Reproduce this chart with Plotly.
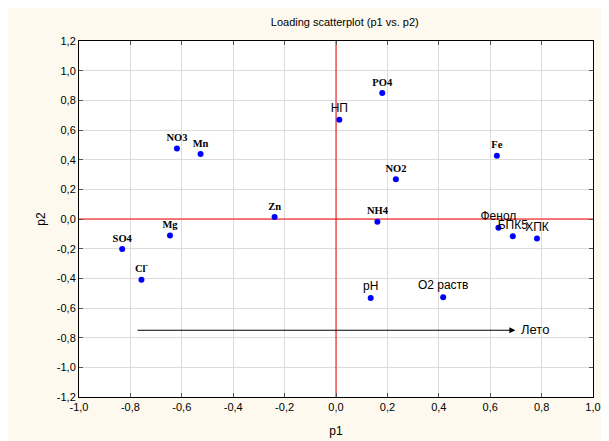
import plotly.graph_objects as go

# Serif-labelled variables
serif_names = ["NO3", "Mn", "Zn", "Mg", "SO4", "Cl<sup>-</sup>", "PO4", "Fe", "NO2", "NH4"]
serif_p1 = [-0.619, -0.527, -0.239, -0.646, -0.832, -0.757, 0.180, 0.626, 0.233, 0.161]
serif_p2 = [0.475, 0.439, 0.014, -0.111, -0.203, -0.410, 0.849, 0.426, 0.268, -0.018]

# Sans-labelled variables
sans_names = ["НП", "Фенол", "БПК5", "ХПК", "pH", "O2 раств"]
sans_p1 = [0.013, 0.632, 0.688, 0.782, 0.135, 0.417]
sans_p2 = [0.669, -0.059, -0.117, -0.131, -0.532, -0.527]

# Season arrow (data coordinates)
arrow_start = [-0.778, -0.75]
arrow_end = [0.698, -0.75]
arrow_label = "Лето"

x_ticks = [-1.0, -0.8, -0.6, -0.4, -0.2, 0.0, 0.2, 0.4, 0.6, 0.8, 1.0]
y_ticks = [-1.2, -1.0, -0.8, -0.6, -0.4, -0.2, 0.0, 0.2, 0.4, 0.6, 0.8, 1.0, 1.2]


def fmt(v):
    return ("%.1f" % v).replace(".", ",")


fig = go.Figure()

# zero lines
fig.add_shape(type="line", x0=0, x1=0, y0=-1.2, y1=1.2, xref="x", yref="y",
              line=dict(color="#ff0000", width=1), layer="between")
fig.add_shape(type="line", x0=-1.0, x1=1.0, y0=0, y1=0, xref="x", yref="y",
              line=dict(color="#ff0000", width=1), layer="between")

fig.add_trace(go.Scatter(
    x=serif_p1, y=serif_p2, mode="markers+text",
    text=["<b>" + n + "</b>" for n in serif_names],
    textposition="top center",
    textfont=dict(family="Liberation Serif", size=10.5, color="#000000"),
    marker=dict(color="#0000ff", size=6), cliponaxis=False, showlegend=False))

fig.add_trace(go.Scatter(
    x=sans_p1, y=sans_p2, mode="markers+text", text=sans_names,
    textposition="top center",
    textfont=dict(family="Liberation Sans", size=12, color="#000000"),
    marker=dict(color="#0000ff", size=6), cliponaxis=False, showlegend=False))

fig.add_annotation(x=arrow_end[0], y=arrow_end[1], ax=arrow_start[0], ay=arrow_start[1],
                   xref="x", yref="y", axref="x", ayref="y", text="",
                   showarrow=True, arrowhead=2, arrowsize=1.2, arrowwidth=1,
                   arrowcolor="#000000")
fig.add_annotation(x=arrow_end[0], y=arrow_end[1], xref="x", yref="y",
                   text=arrow_label, showarrow=False, xanchor="left", xshift=4,
                   yshift=1,
                   font=dict(family="Liberation Sans", size=13, color="#000000"))

axis_common = dict(
    showgrid=True, gridcolor="#dcdcdc", gridwidth=1, zeroline=False,
    showline=True, linecolor="#000000", linewidth=1, mirror="ticks",
    ticks="inside", ticklen=4, tickcolor="#555555",
    tickfont=dict(family="Liberation Sans", size=11, color="#000000"),
    automargin=False,
)

fig.update_xaxes(range=[-1.0, 1.0], tickvals=x_ticks, ticktext=[fmt(v) for v in x_ticks],
                 title=dict(text="p1", font=dict(family="Liberation Sans", size=12, color="#000000"), standoff=14),
                 **axis_common)
fig.update_yaxes(range=[-1.2, 1.2], tickvals=y_ticks, ticktext=[fmt(v) for v in y_ticks],
                 title=dict(text="p2", font=dict(family="Liberation Sans", size=12, color="#000000"), standoff=8),
                 **axis_common)

fig.update_layout(
    width=609, height=441,
    margin=dict(l=71, r=24, t=33, b=52, autoexpand=False),
    paper_bgcolor="#fdf9ee", plot_bgcolor="#ffffff",
    title=dict(text="Loading scatterplot (p1 vs. p2)", x=0.553, xanchor="center",
               y=0.968, yanchor="middle",
               font=dict(family="Liberation Sans", size=11, color="#000000")),
)

fig.write_html("out.html")
